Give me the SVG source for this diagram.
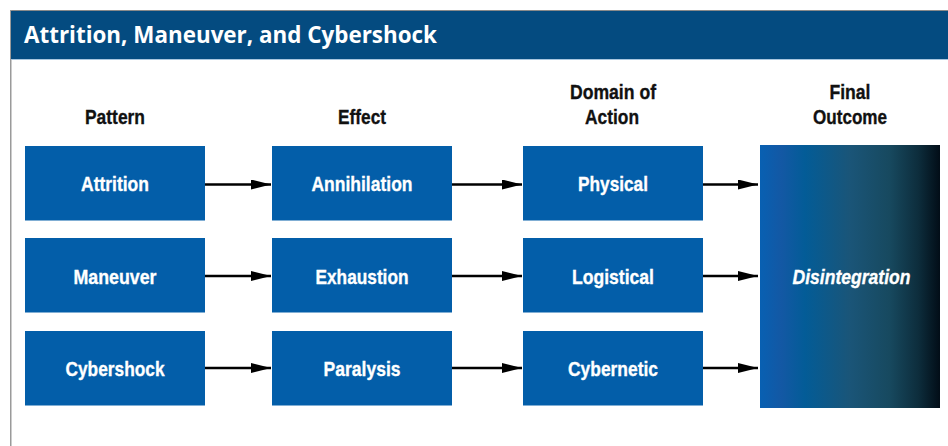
<svg xmlns="http://www.w3.org/2000/svg" width="948" height="446" viewBox="0 0 948 446">
<defs>
<style>
.box{fill:#035ea9}
.lbl{font-family:"Liberation Sans",Arial,sans-serif;font-weight:bold;font-size:21px;fill:#ffffff;stroke:#ffffff;stroke-width:0.35;text-anchor:middle}
.hdr{font-family:"Liberation Sans",Arial,sans-serif;font-weight:bold;font-size:21px;fill:#111111;stroke:#111111;stroke-width:0.35;text-anchor:middle}
.con{stroke:#000;stroke-width:2.5;fill:none;marker-end:url(#ah)}
</style>
<marker id="ah" markerWidth="20" markerHeight="10" refX="20" refY="5" orient="auto" markerUnits="userSpaceOnUse">
<path d="M0,0 L20,5 L0,10 Z" fill="#000"/>
</marker>
<linearGradient id="grad" x1="0" y1="0" x2="1" y2="0">
<stop offset="0" stop-color="#0860b2"/>
<stop offset="0.12" stop-color="#1358a4"/>
<stop offset="0.25" stop-color="#035c97"/>
<stop offset="0.5" stop-color="#1a5578"/>
<stop offset="0.72" stop-color="#17495f"/>
<stop offset="0.88" stop-color="#0d2d3c"/>
<stop offset="1" stop-color="#020d17"/>
</linearGradient>
</defs>
<rect x="0" y="0" width="948" height="446" fill="#ffffff"/>
<g id="frame">
<rect x="10" y="10" width="938" height="1" fill="#8a8a8a"/>
<rect x="10" y="10" width="1.5" height="436" fill="#9a9a9a"/>
<rect x="11" y="11" width="937" height="48" fill="#044b80"/>
<rect x="11" y="59" width="937" height="1" fill="#a9c6df"/>
<text x="24" y="43" font-family="'Open Sans','Noto Sans',sans-serif" font-weight="bold" font-size="23.5" fill="#ffffff" textLength="413" lengthAdjust="spacingAndGlyphs">Attrition, Maneuver, and Cybershock</text>
</g>
<g id="headers">
<text class="hdr" x="115" y="124" textLength="60" lengthAdjust="spacingAndGlyphs">Pattern</text>
<text class="hdr" x="362" y="124" textLength="48" lengthAdjust="spacingAndGlyphs">Effect</text>
<text class="hdr" x="613" y="99" textLength="86" lengthAdjust="spacingAndGlyphs">Domain of</text>
<text class="hdr" x="612" y="124" textLength="54" lengthAdjust="spacingAndGlyphs">Action</text>
<text class="hdr" x="850" y="99" textLength="41" lengthAdjust="spacingAndGlyphs">Final</text>
<text class="hdr" x="850" y="124" textLength="74" lengthAdjust="spacingAndGlyphs">Outcome</text>
</g>
<g id="connectors">
<line class="con" x1="205" y1="184.5" x2="271" y2="184.5"/>
<line class="con" x1="452" y1="184.5" x2="522" y2="184.5"/>
<line class="con" x1="703" y1="184.5" x2="758" y2="184.5"/>
<line class="con" x1="205" y1="276" x2="271" y2="276"/>
<line class="con" x1="452" y1="276" x2="522" y2="276"/>
<line class="con" x1="703" y1="276" x2="758" y2="276"/>
<line class="con" x1="205" y1="368" x2="271" y2="368"/>
<line class="con" x1="452" y1="368" x2="522" y2="368"/>
<line class="con" x1="703" y1="368" x2="758" y2="368"/>
</g>
<g id="attrition"><rect class="box" x="25" y="146" width="180" height="74.5"/><text class="lbl" x="115" y="191" textLength="68" lengthAdjust="spacingAndGlyphs">Attrition</text></g>
<g id="maneuver"><rect class="box" x="25" y="238" width="180" height="74.5"/><text class="lbl" x="115" y="284" textLength="83" lengthAdjust="spacingAndGlyphs">Maneuver</text></g>
<g id="cybershock"><rect class="box" x="25" y="331" width="180" height="74.5"/><text class="lbl" x="115" y="376" textLength="99" lengthAdjust="spacingAndGlyphs">Cybershock</text></g>
<g id="annihilation"><rect class="box" x="272" y="146" width="180" height="74.5"/><text class="lbl" x="362" y="191" textLength="101" lengthAdjust="spacingAndGlyphs">Annihilation</text></g>
<g id="exhaustion"><rect class="box" x="272" y="238" width="180" height="74.5"/><text class="lbl" x="362" y="284" textLength="93" lengthAdjust="spacingAndGlyphs">Exhaustion</text></g>
<g id="paralysis"><rect class="box" x="272" y="331" width="180" height="74.5"/><text class="lbl" x="362" y="376" textLength="77" lengthAdjust="spacingAndGlyphs">Paralysis</text></g>
<g id="physical"><rect class="box" x="523" y="146" width="180" height="74.5"/><text class="lbl" x="613" y="191" textLength="70" lengthAdjust="spacingAndGlyphs">Physical</text></g>
<g id="logistical"><rect class="box" x="523" y="238" width="180" height="74.5"/><text class="lbl" x="613" y="284" textLength="82" lengthAdjust="spacingAndGlyphs">Logistical</text></g>
<g id="cybernetic"><rect class="box" x="523" y="331" width="180" height="74.5"/><text class="lbl" x="613" y="376" textLength="90" lengthAdjust="spacingAndGlyphs">Cybernetic</text></g>
<g id="disintegration"><rect x="760" y="145" width="180" height="263" fill="url(#grad)"/><text class="lbl" x="851.5" y="283.5" font-style="italic" textLength="118" lengthAdjust="spacingAndGlyphs">Disintegration</text></g>
</svg>
